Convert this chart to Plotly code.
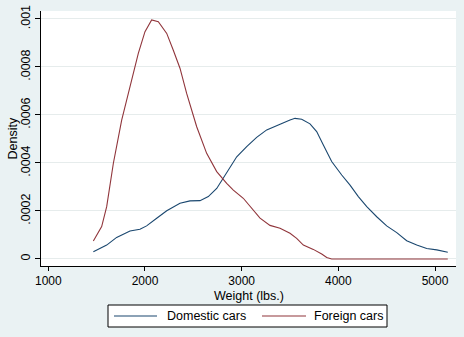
import plotly.graph_objects as go

# Kernel density estimates of car weight, by origin
domestic_weight = [1466, 1604, 1707, 1845, 1948, 2017, 2121, 2225, 2362, 2466, 2569, 2655,
                   2742, 2845, 2949, 3052, 3155, 3259, 3397, 3500, 3552, 3621, 3707, 3776,
                   3845, 3931, 4035, 4121, 4207, 4294, 4397, 4500, 4604, 4707, 4811, 4914,
                   5018, 5132]
domestic_density = [0.000030, 0.000058, 0.000090, 0.000117, 0.000124, 0.000138, 0.000170,
                    0.000201, 0.000232, 0.000242, 0.000243, 0.000260, 0.000294, 0.000357,
                    0.000426, 0.000468, 0.000507, 0.000538, 0.000563, 0.000579, 0.000586,
                    0.000582, 0.000563, 0.000531, 0.000475, 0.000406, 0.000350, 0.000308,
                    0.000260, 0.000218, 0.000176, 0.000138, 0.000110, 0.000076, 0.000058,
                    0.000044, 0.000038, 0.000028]

foreign_weight = [1466, 1552, 1604, 1673, 1759, 1845, 1931, 2000, 2069, 2138, 2225, 2293,
                  2362, 2431, 2535, 2638, 2742, 2845, 2914, 3017, 3086, 3190, 3293, 3397,
                  3500, 3569, 3638, 3741, 3828, 3880, 3931, 4500, 5132]
foreign_density = [0.000075, 0.000135, 0.000218, 0.000399, 0.000579, 0.000718, 0.000857,
                   0.000947, 0.000996, 0.000989, 0.000940, 0.000870, 0.000795, 0.000690,
                   0.000551, 0.000440, 0.000364, 0.000315, 0.000287, 0.000253, 0.000218,
                   0.000170, 0.000140, 0.000128, 0.000107, 0.000086, 0.000058, 0.000040,
                   0.000021, 0.000006, 0.0, 0.0, 0.0]

series_names = ["Domestic cars", "Foreign cars"]
series_colors = ["#1A476F", "#90353B"]

x_ticks = [1000, 2000, 3000, 4000, 5000]
y_ticks = [0, 0.0002, 0.0004, 0.0006, 0.0008, 0.001]
y_tick_labels = ["0", ".0002", ".0004", ".0006", ".0008", ".001"]
x_title = "Weight (lbs.)"
y_title = "Density"

FONT = "Arial, Liberation Sans, sans-serif"

fig = go.Figure()
for xs, ys, name, color in zip([domestic_weight, foreign_weight],
                               [domestic_density, foreign_density],
                               series_names, series_colors):
    fig.add_trace(go.Scatter(x=xs, y=ys, mode="lines", name=name,
                             line=dict(color=color, width=1.1)))

# Page geometry in pixels, converted to paper coordinates for the overlays
W, H = 464, 337
L, R, T, B = 41, 8, 11, 71
pw, ph = W - L - R, H - T - B


def px(xp):
    return (xp - L) / pw


def py(yp):
    return (H - B - yp) / ph


# Boxed legend below the plot region
shapes = [dict(type="rect", xref="paper", yref="paper",
               x0=px(108), x1=px(387), y0=py(305), y1=py(327),
               line=dict(color="black", width=1), fillcolor="white", layer="above")]
annotations = []
for (lx0, lx1, tx), name, color in zip([(114, 157, 165), (262, 306, 312)],
                                      series_names, series_colors):
    shapes.append(dict(type="line", xref="paper", yref="paper",
                       x0=px(lx0), x1=px(lx1), y0=py(316), y1=py(316),
                       line=dict(color=color, width=1.1)))
    annotations.append(dict(text=name, xref="paper", yref="paper", x=px(tx), y=py(316),
                            xanchor="left", yanchor="middle", showarrow=False,
                            font=dict(size=12.5)))

# Axis titles
annotations.append(dict(text=x_title, xref="paper", yref="paper", x=0.5, y=py(295.5),
                        xanchor="center", yanchor="middle", showarrow=False,
                        font=dict(size=12.5)))
annotations.append(dict(text=y_title, xref="paper", yref="paper", x=px(12), y=0.5,
                        xanchor="center", yanchor="middle", showarrow=False,
                        textangle=-90, font=dict(size=12.5)))

fig.update_layout(
    width=W, height=H,
    margin=dict(l=L, r=R, t=T, b=B),
    paper_bgcolor="#EAF2F3",
    plot_bgcolor="white",
    font=dict(family=FONT, size=12.5, color="black"),
    showlegend=False,
    shapes=shapes,
    annotations=annotations,
    xaxis=dict(range=[924.5, 5217], tickvals=x_ticks, showgrid=False, zeroline=False,
               showline=True, linecolor="black", linewidth=1, automargin=False,
               ticks="outside", ticklen=4, tickcolor="black", tickfont=dict(size=12)),
    yaxis=dict(range=[-0.0000292, 0.0010333], tickvals=y_ticks, ticktext=y_tick_labels,
               tickangle=-90, showgrid=True, gridcolor="#E6ECEC", gridwidth=1,
               zeroline=False, showline=True, linecolor="black", linewidth=1,
               automargin=False, ticks="outside", ticklen=5, tickcolor="black"),
)

fig.write_html("out.html")
